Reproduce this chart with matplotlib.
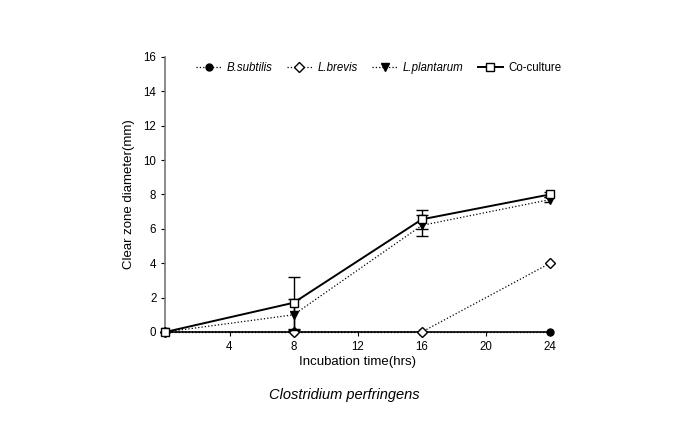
import numpy as np
import matplotlib
matplotlib.use("Agg")
import matplotlib.pyplot as plt
from matplotlib.lines import Line2D

plt.rcParams['font.family'] = ['Liberation Sans', 'DejaVu Sans']

# data
hours = [0, 8, 16, 24]
b_subtilis = [0, 0, 0, 0]
l_brevis = [0, 0, 0, 4.0]
l_plantarum = [0, 1.0, 6.2, 7.7]
l_plantarum_err = [0, 0.9, 0.6, 0.15]
coculture = [0, 1.7, 6.55, 8.0]
coculture_err = [0, 1.5, 0.55, 0.15]

fig = plt.figure(figsize=(6.75, 4.24), dpi=100)
ax = fig.add_axes([0.245, 0.217, 0.57, 0.649])

ax.plot(hours, b_subtilis, ':', color='black', lw=0.9, marker='o', ms=5,
        mfc='black', mec='black', zorder=3, clip_on=False)
ax.plot(hours, l_brevis, ':', color='black', lw=0.9, marker='D', ms=5,
        mfc='white', mec='black', zorder=3, clip_on=False)
pl = ax.errorbar(hours, l_plantarum, yerr=l_plantarum_err, fmt='v', ls=':', color='black',
                 lw=0.9, ms=6, mfc='black', mec='black', capsize=4, elinewidth=1,
                 zorder=4)
cc = ax.errorbar(hours, coculture, yerr=coculture_err, fmt='s', ls='-', color='black',
                 lw=1.4, ms=6, mfc='white', mec='black', capsize=4, elinewidth=1,
                 zorder=5)
for c in (pl, cc):
    c.lines[0].set_clip_on(False)

ax.set_xlim(0, 24)
ax.set_ylim(0, 16)
ax.set_xticks([4, 8, 12, 16, 20, 24])
ax.set_yticks(np.arange(0, 17, 2))
ax.tick_params(labelsize=8.3, direction='out', length=3, width=0.8)
ax.spines['top'].set_visible(False)
ax.spines['right'].set_visible(False)
ax.spines['left'].set_color('#777777')
ax.spines['left'].set_linewidth(1.2)
ax.spines['bottom'].set_linewidth(1.2)
ax.set_xlabel('Incubation time(hrs)', fontsize=9.5, labelpad=2)
ax.set_ylabel('Clear zone diameter(mm)', fontsize=9.5, labelpad=6)

handles = [
    Line2D([], [], ls=':', color='black', lw=0.9, marker='o', ms=5, mfc='black'),
    Line2D([], [], ls=':', color='black', lw=0.9, marker='D', ms=5, mfc='white'),
    Line2D([], [], ls=':', color='black', lw=0.9, marker='v', ms=6, mfc='black'),
    Line2D([], [], ls='-', color='black', lw=1.4, marker='s', ms=6, mfc='white'),
]
labels = ['B.subtilis', 'L.brevis', 'L.plantarum', 'Co-culture']
leg = ax.legend(handles, labels, loc='upper center', ncol=4, frameon=False, fontsize=8.3,
                bbox_to_anchor=(0.555, 1.02), handlelength=2.2, columnspacing=1.2,
                handletextpad=0.5)
for t in leg.get_texts()[:3]:
    t.set_style('italic')

fig.text(0.51, 0.06, 'Clostridium perfringens', ha='center', fontsize=10.5, style='italic')

fig.savefig('out.png', dpi=100)
